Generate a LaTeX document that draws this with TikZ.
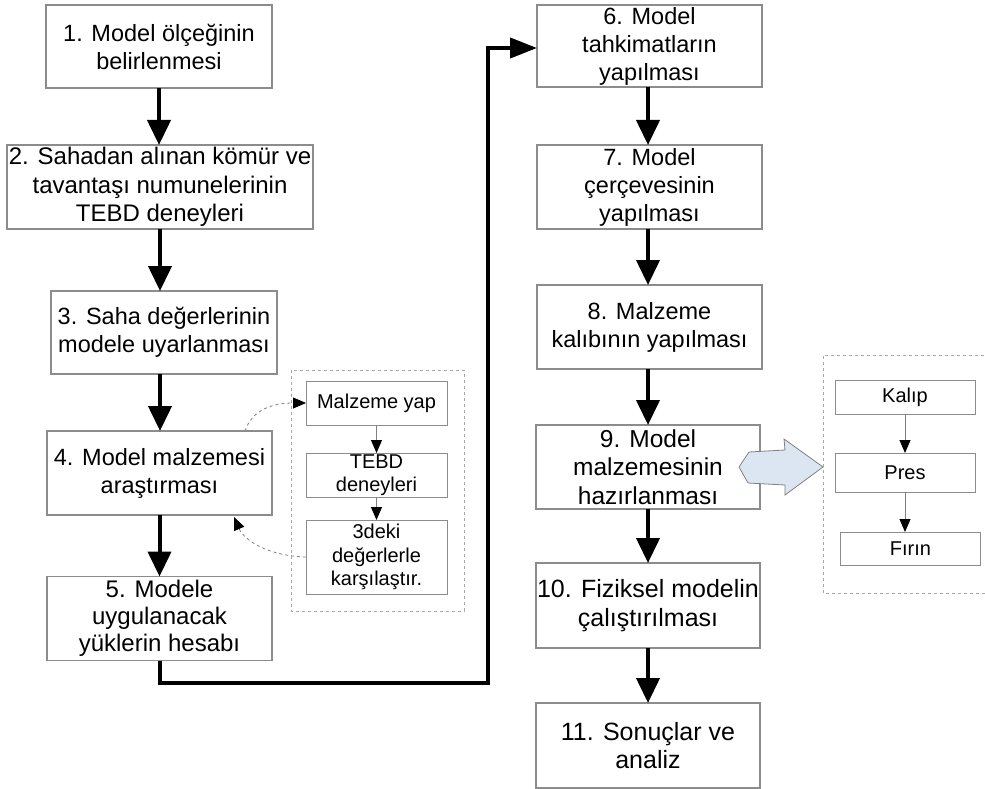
\documentclass[tikz,border=0pt]{standalone}
\usepackage{fontspec}
\setmainfont{Liberation Sans}
\usetikzlibrary{arrows.meta,calc}
\definecolor{boxgray}{HTML}{8C8C8C}
\definecolor{dashgray}{HTML}{A8A8A8}
\definecolor{arrowfill}{HTML}{DCE6F2}
\begin{document}
\begin{tikzpicture}[x=1pt,y=-1pt,
  mbox/.style={draw=boxgray,line width=1.2pt,rectangle,inner sep=0pt,outer sep=0pt,
    align=center,font=\fontsize{23.5}{28}\selectfont},
  bigtext/.style={font=\fontsize{25}{28.5}\selectfont},
  sbox/.style={draw=boxgray,line width=1pt,rectangle,inner sep=0pt,outer sep=0pt,
    align=center,font=\fontsize{20}{23.5}\selectfont},
  bigarrow/.style={line width=4pt,-{Triangle[length=25pt,width=23pt]}},
  smallarrow/.style={draw=gray,line width=0.9pt,-{Triangle[length=13pt,width=11pt,color=black]}},
  dasharrow/.style={draw=gray,dashed,line width=0.8pt,-{Triangle[length=13pt,width=11pt,color=black]}},
  dashframe/.style={draw=dashgray,dashed,line width=0.9pt}
]
\useasboundingbox (0,0) rectangle (985,789);

% left column
\node[mbox,minimum width=226pt,minimum height=83pt] (b1) at (159,46.5) {1. Model ölçeğinin\\belirlenmesi};
\node[mbox,minimum width=306pt,minimum height=84pt,font=\fontsize{24}{28.5}\selectfont] (b2) at (160,187) {2. Sahadan alınan kömür ve\\tavantaşı numunelerinin\\TEBD deneyleri};
\node[mbox,minimum width=226pt,minimum height=83pt] (b3) at (164,332.5) {3. Saha değerlerinin\\modele uyarlanması};
\node[mbox,minimum width=225pt,minimum height=84pt] (b4) at (159.5,473) {4. Model malzemesi\\araştırması};
\node[mbox,minimum width=225pt,minimum height=84pt,font=\fontsize{24}{27}\selectfont] (b5) at (159.5,618.5) {5. Modele\\uygulanacak\\yüklerin hesabı};

% right column
\node[mbox,minimum width=225pt,minimum height=82pt] (b6) at (649.5,46) {6. Model\\tahkimatların\\yapılması};
\node[mbox,minimum width=225pt,minimum height=84pt] (b7) at (649.5,187) {7. Model\\çerçevesinin\\yapılması};
\node[mbox,minimum width=225pt,minimum height=84pt] (b8) at (649.5,327) {8. Malzeme\\kalıbının yapılması};
\node[mbox,bigtext,minimum width=224pt,minimum height=84pt,font=\fontsize{24.5}{28.5}\selectfont] (b9) at (648,467) {9. Model\\malzemesinin\\hazırlanması};
\node[mbox,bigtext,minimum width=224pt,minimum height=85pt] (b10) at (648,605.5) {10. Fiziksel modelin\\çalıştırılması};
\node[mbox,bigtext,minimum width=224pt,minimum height=85pt] (b11) at (648,745.5) {11. Sonuçlar ve\\analiz};

% inner dashed frame (left)
\draw[dashframe] (291,370) rectangle (464,611);
\node[sbox,minimum width=141pt,minimum height=44pt] (m1) at (376.5,403) {Malzeme yap};
\node[sbox,minimum width=141pt,minimum height=44pt] (m2) at (376.5,475) {TEBD\\deneyleri};
\node[sbox,minimum width=141pt,minimum height=74pt] (m3) at (376.5,557) {3deki\\değerlerle\\karşılaştır.};

% right dashed frame (open at the right edge)
\draw[dashframe] (990,355) -- (823,355) -- (823,593) -- (990,593);
\node[sbox,minimum width=140pt,minimum height=34pt] (k1) at (905,397) {Kalıp};
\node[sbox,minimum width=140pt,minimum height=39pt] (k2) at (905,472.5) {Pres};
\node[sbox,minimum width=140pt,minimum height=33pt] (k3) at (910.5,548.5) {Fırın};

% main arrows
\draw[bigarrow] (b1.south) -- (b1.south |- b2.north);
\draw[bigarrow] (b2.south) -- (b2.south |- b3.north);
\draw[bigarrow] (b3.south -| b2.south) -- (b2.south |- b4.north);
\draw[bigarrow] (b4.south) -- (b4.south |- b5.north);
\coordinate (c1) at (160,683);
\coordinate (c2) at (488,683);
\coordinate (c3) at (488,48);
\draw[line width=4pt,-{Triangle[length=27pt,width=20pt]}] (b5.south -| c1) -- (c1) -- (c2) -- (c3) -- (b6.west |- c3);
\draw[bigarrow] (b6.south -| b9.south) -- (b9.south |- b7.north);
\draw[bigarrow] (b7.south -| b9.south) -- (b9.south |- b8.north);
\draw[bigarrow] (b8.south -| b9.south) -- (b9.south |- b9.north);
\draw[bigarrow] (b9.south) -- (b10.north);
\draw[bigarrow] (b10.south) -- (b11.north);

% small arrows
\draw[smallarrow] (m1.south) -- (m2.north);
\draw[smallarrow] (m2.south) -- (m3.north);
\draw[smallarrow] (k1.south) -- (k2.north);
\draw[smallarrow] (k2.south -| k1.south) -- (k1.south |- k3.north);

% dashed curved arrows
\coordinate (d1) at (245,431);
\draw[dasharrow] (d1) .. controls (252,410) and (272,403) .. (m1.west);
\coordinate (d2) at (234,517);
\draw[dasharrow] (m3.west) .. controls (268,556) and (244,540) .. (d2);

% hollow block arrow
\coordinate (h0) at (739,467);
\coordinate (h9) at (823,467);
\draw[draw=gray,fill=arrowfill,line width=0.8pt]
  (h0) -- (749,452) -- (785,450) -- (784,439) -- (h9) -- (785,495) -- (785,485) -- (748,483) -- cycle;
\end{tikzpicture}
\end{document}
